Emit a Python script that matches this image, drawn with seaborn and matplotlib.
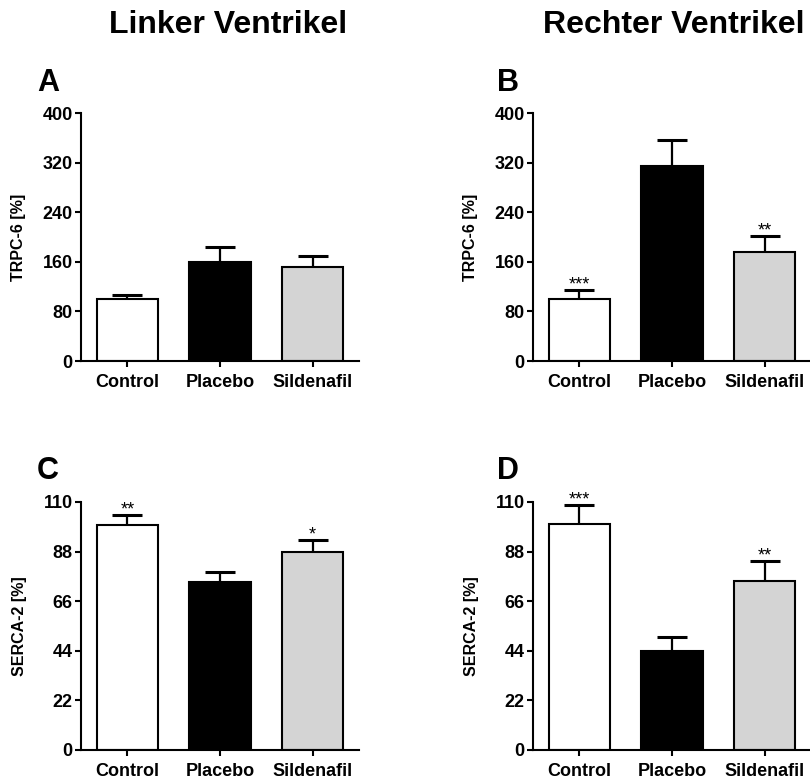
import matplotlib
matplotlib.use("Agg")
import matplotlib.pyplot as plt
import seaborn as sns
import numpy as np
import pandas as pd

sns.set_theme(style="ticks")
plt.rcParams['font.family'] = ['Liberation Sans', 'DejaVu Sans']
plt.rcParams['font.weight'] = 'bold'
plt.rcParams['text.color'] = 'black'
plt.rcParams['axes.labelcolor'] = 'black'
plt.rcParams['xtick.color'] = 'black'
plt.rcParams['ytick.color'] = 'black'

categories = ["Control", "Placebo", "Sildenafil"]
bar_colors = ["#ffffff", "#000000", "#d4d4d4"]

# Panel A: TRPC-6, Linker Ventrikel
trpc6_lv_mean = [100, 160, 151]
trpc6_lv_sem = [6, 24, 19]
trpc6_lv_stars = ["", "", ""]

# Panel B: TRPC-6, Rechter Ventrikel
trpc6_rv_mean = [100, 315, 176]
trpc6_rv_sem = [15, 41, 26]
trpc6_rv_stars = ["***", "", "**"]

# Panel C: SERCA-2, Linker Ventrikel
serca2_lv_mean = [100, 74.5, 88]
serca2_lv_sem = [4.3, 4.6, 5.2]
serca2_lv_stars = ["**", "", "*"]

# Panel D: SERCA-2, Rechter Ventrikel
serca2_rv_mean = [100.3, 44.1, 75.1]
serca2_rv_sem = [8.5, 6.1, 8.8]
serca2_rv_stars = ["***", "", "**"]

trpc6_ticks = [0, 80, 160, 240, 320, 400]
serca2_ticks = [0, 22, 44, 66, 88, 110]

column_titles = ["Linker Ventrikel", "Rechter Ventrikel"]

W, H = 810, 783
fig = plt.figure(figsize=(W / 100, H / 100), dpi=100)

def ax_rect(x0, y0, x1, y1):
    return [x0 / W, 1 - y1 / H, (x1 - x0) / W, (y1 - y0) / H]

panels = [
    ("A", ax_rect(81, 113, 359, 361), trpc6_lv_mean, trpc6_lv_sem, trpc6_lv_stars, trpc6_ticks, "TRPC-6 [%]", (37, 91)),
    ("B", ax_rect(533, 113, 811, 361), trpc6_rv_mean, trpc6_rv_sem, trpc6_rv_stars, trpc6_ticks, "TRPC-6 [%]", (497, 91)),
    ("C", ax_rect(81, 502, 359, 750), serca2_lv_mean, serca2_lv_sem, serca2_lv_stars, serca2_ticks, "SERCA-2 [%]", (37, 479)),
    ("D", ax_rect(533, 502, 811, 750), serca2_rv_mean, serca2_rv_sem, serca2_rv_stars, serca2_ticks, "SERCA-2 [%]", (497, 479)),
]

for letter, rect, means, sems, stars, ticks, ylabel, lpos in panels:
    ax = fig.add_axes(rect)
    df = pd.DataFrame({"group": categories, "value": means})
    sns.barplot(data=df, x="group", y="value", hue="group", palette=bar_colors,
                legend=False, errorbar=None, width=0.66, edgecolor="black",
                linewidth=1.5, saturation=1, ax=ax)
    xs = np.arange(len(categories))
    tops = np.array(means) + np.array(sems)
    # upper-only error bars: stem from mean to top, cap at top
    ax.vlines(xs, means, tops, colors="black", linewidth=1.6, zorder=1)
    ax.errorbar(xs, tops, yerr=None, fmt="none")
    ax.plot(xs, tops, linestyle="none", marker="_", markersize=22,
            markeredgewidth=2.2, color="black", zorder=3)
    for i, s in enumerate(stars):
        if s:
            ax.annotate(s, xy=(xs[i], tops[i]), xytext=(0, 0),
                        textcoords="offset points", ha="center", va="baseline",
                        fontsize=13, fontweight="normal")
    ax.set_xlim(-0.5, 2.5)
    ax.set_ylim(0, ticks[-1])
    ax.set_yticks(ticks)
    ax.set_yticklabels([str(t) for t in ticks], fontsize=13, fontweight="bold")
    ax.set_xticks(xs)
    ax.set_xticklabels(categories, fontsize=13, fontweight="bold")
    ax.set_xlabel("")
    ax.set_ylabel(ylabel, fontsize=11.5, fontweight="bold", labelpad=12)
    sns.despine(ax=ax)
    for sp in ["left", "bottom"]:
        ax.spines[sp].set_linewidth(1.5)
        ax.spines[sp].set_color("black")
    ax.tick_params(axis="both", direction="out", length=4.5, width=1.5, colors="black", pad=1.5)
    ax.tick_params(axis="x", pad=5)
    ax.set_facecolor("white")
    fig.text(lpos[0] / W, 1 - lpos[1] / H, letter, fontsize=22, fontweight="bold",
             ha="left", va="baseline")

fig.text(228 / W, 1 - 33 / H, column_titles[0], fontsize=23, fontweight="bold", ha="center", va="baseline")
fig.text(674 / W, 1 - 33 / H, column_titles[1], fontsize=23, fontweight="bold", ha="center", va="baseline")

fig.savefig("out.png", dpi=100, facecolor="white")
